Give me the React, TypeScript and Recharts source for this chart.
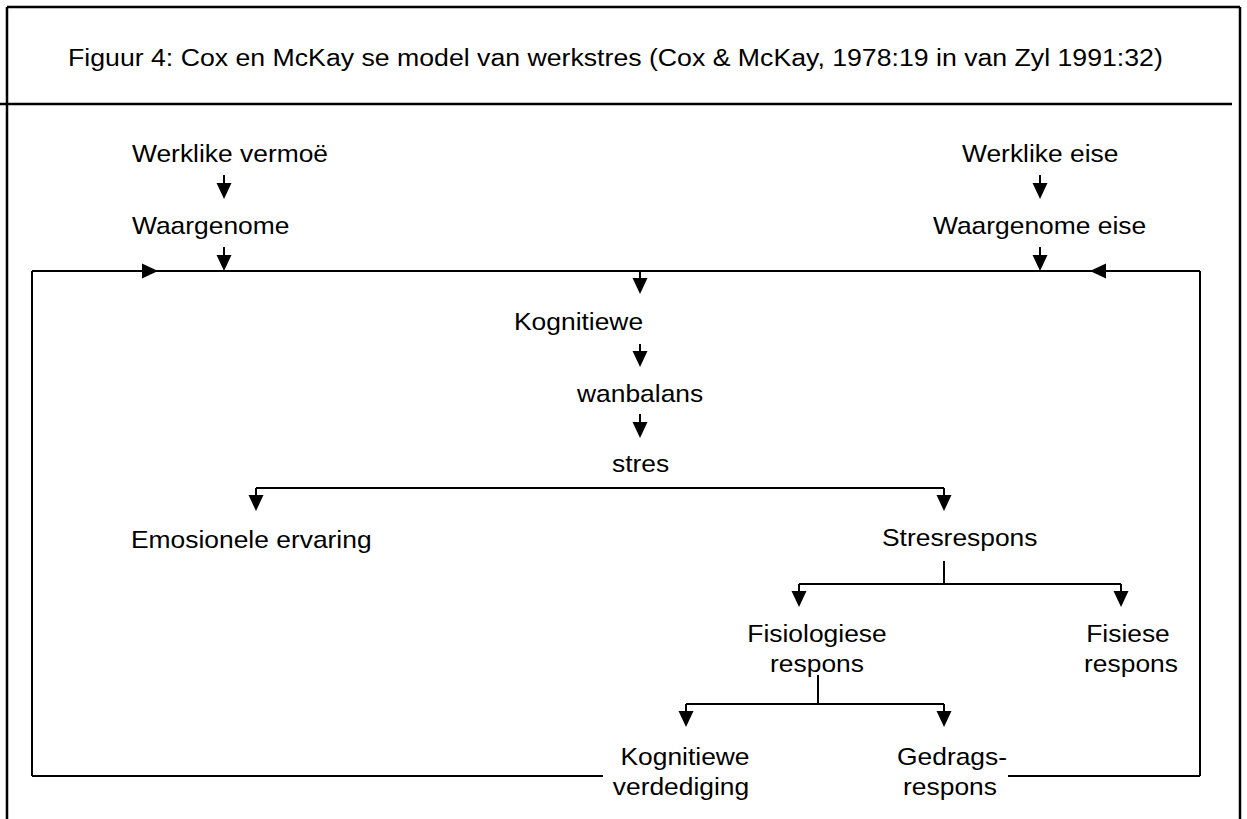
import React from 'react';
import { ScatterChart, Scatter, XAxis, YAxis, ReferenceLine } from 'recharts';

const CHART_W = 1247;
const CHART_H = 819;

// Diagram coordinate space (x: 0..1247, y: 0..819, y downward)
const titleText = 'Figuur 4: Cox en McKay se model van werkstres (Cox & McKay, 1978:19 in van Zyl 1991:32)';
const titleLabels = [{ text: titleText, x: 68, y: 66, anchor: 'start' }];

const nodeLabels = [
  { text: 'Werklike vermoë', x: 132, y: 162, anchor: 'start' },
  { text: 'Waargenome', x: 132, y: 234, anchor: 'start' },
  { text: 'Werklike eise', x: 962, y: 162, anchor: 'start' },
  { text: 'Waargenome eise', x: 933, y: 234, anchor: 'start' },
  { text: 'Kognitiewe', x: 514, y: 330, anchor: 'start' },
  { text: 'wanbalans', x: 577, y: 402, anchor: 'start' },
  { text: 'stres', x: 612, y: 472, anchor: 'start' },
  { text: 'Emosionele ervaring', x: 131, y: 548, anchor: 'start' },
  { text: 'Stresrespons', x: 882, y: 546, anchor: 'start' },
  { text: 'Fisiologiese', x: 817, y: 642, anchor: 'middle' },
  { text: 'respons', x: 817, y: 672, anchor: 'middle' },
  { text: 'Fisiese', x: 1128, y: 642, anchor: 'middle' },
  { text: 'respons', x: 1131, y: 672, anchor: 'middle' },
  { text: 'Kognitiewe', x: 685, y: 765, anchor: 'middle' },
  { text: 'verdediging', x: 681, y: 795, anchor: 'middle' },
  { text: 'Gedrags-', x: 952, y: 765, anchor: 'middle' },
  { text: 'respons', x: 950, y: 795, anchor: 'middle' },
];

const frameSegments = [
  [[7, 7], [1240, 7]],
  [[7, 7], [7, 819]],
  [[1240, 7], [1240, 819]],
  [[0, 104], [1232, 104]],
];

const connectorSegments = [
  [[32, 271], [1200, 271]],
  [[32, 271], [32, 776]],
  [[32, 776], [603, 776]],
  [[1200, 271], [1200, 776]],
  [[1008, 776], [1200, 776]],
  [[224, 175], [224, 186]],
  [[224, 247], [224, 258]],
  [[1040, 175], [1040, 186]],
  [[1040, 247], [1040, 258]],
  [[640, 271], [640, 280]],
  [[640, 344], [640, 353]],
  [[640, 414], [640, 424]],
  [[256, 488], [944, 488]],
  [[256, 488], [256, 497]],
  [[944, 488], [944, 497]],
  [[944, 561], [944, 584]],
  [[799, 584], [1121, 584]],
  [[799, 584], [799, 593]],
  [[1121, 584], [1121, 593]],
  [[818, 675], [818, 704]],
  [[686, 704], [944, 704]],
  [[686, 704], [686, 713]],
  [[944, 704], [944, 713]],
];

const arrowHeads = [
  { x: 224, y: 199, dir: 'down' },
  { x: 224, y: 271, dir: 'down' },
  { x: 1040, y: 199, dir: 'down' },
  { x: 1040, y: 271, dir: 'down' },
  { x: 640, y: 294, dir: 'down' },
  { x: 640, y: 367, dir: 'down' },
  { x: 640, y: 438, dir: 'down' },
  { x: 256, y: 511, dir: 'down' },
  { x: 944, y: 511, dir: 'down' },
  { x: 799, y: 607, dir: 'down' },
  { x: 1121, y: 607, dir: 'down' },
  { x: 686, y: 727, dir: 'down' },
  { x: 944, y: 727, dir: 'down' },
  { x: 158, y: 271, dir: 'right' },
  { x: 1090, y: 271, dir: 'left' },
];

const FONT = '"Liberation Sans", Arial, Helvetica, sans-serif';

const makeLabelShape = (scaleX: number) => (props: any) => {
  const { cx, cy, payload } = props;
  if (cx == null || cy == null) return null;
  return (
    <text
      transform={`translate(${cx},${cy}) scale(${scaleX},1)`}
      x={0}
      y={0}
      textAnchor={payload.anchor}
      fontFamily={FONT}
      fontSize={24}
      fill="#000"
    >
      {payload.text}
    </text>
  );
};

const TitleShape = makeLabelShape(1.112);
const NodeShape = makeLabelShape(1.1);

const ArrowShape = (props: any) => {
  const { cx, cy, payload } = props;
  if (cx == null || cy == null) return null;
  const L = 16;
  const h = 7.5;
  let pts = '';
  if (payload.dir === 'down') pts = `${cx},${cy} ${cx - h},${cy - L} ${cx + h},${cy - L}`;
  else if (payload.dir === 'right') pts = `${cx},${cy} ${cx - L},${cy - h} ${cx - L},${cy + h}`;
  else pts = `${cx},${cy} ${cx + L},${cy - h} ${cx + L},${cy + h}`;
  return <polygon points={pts} fill="#000" stroke="none" />;
};

export default function App() {
  return (
    <div style={{ position: 'absolute', left: 0, top: 0, width: CHART_W, height: CHART_H, background: '#fff' }}>
      <ScatterChart width={CHART_W} height={CHART_H} margin={{ top: 0, right: 0, bottom: 0, left: 0 }}>
        <XAxis type="number" dataKey="x" domain={[0, CHART_W]} hide allowDataOverflow />
        <YAxis type="number" dataKey="y" domain={[0, CHART_H]} reversed hide allowDataOverflow />
        {frameSegments.map((s, i) => (
          <ReferenceLine
            key={`f${i}`}
            segment={[{ x: s[0][0], y: s[0][1] }, { x: s[1][0], y: s[1][1] }]}
            stroke="#000"
            strokeWidth={2.5}
            ifOverflow="visible"
          />
        ))}
        {connectorSegments.map((s, i) => (
          <ReferenceLine
            key={`c${i}`}
            segment={[{ x: s[0][0], y: s[0][1] }, { x: s[1][0], y: s[1][1] }]}
            stroke="#000"
            strokeWidth={2}
            ifOverflow="visible"
          />
        ))}
        <Scatter data={arrowHeads} shape={ArrowShape} isAnimationActive={false} />
        <Scatter data={titleLabels} shape={TitleShape} isAnimationActive={false} />
        <Scatter data={nodeLabels} shape={NodeShape} isAnimationActive={false} />
      </ScatterChart>
    </div>
  );
}
